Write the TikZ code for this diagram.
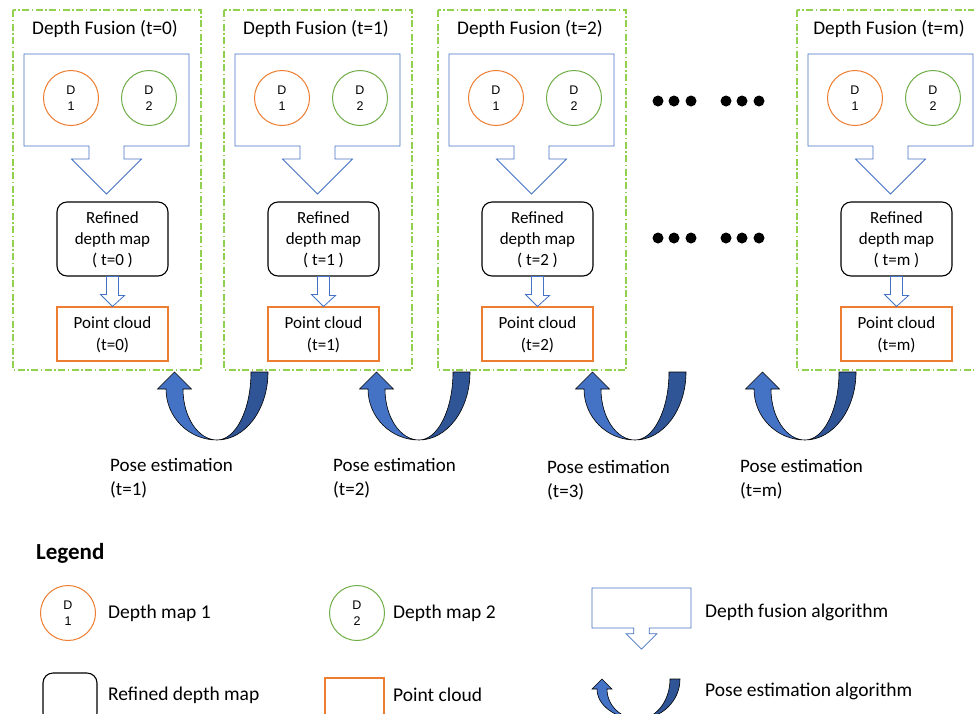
\documentclass[tikz,border=0pt]{standalone}
\usepackage{fontspec}
\setmainfont{Carlito}
\newfontfamily\arialfont{Liberation Sans}
\usetikzlibrary{positioning}

\definecolor{fuseblue}{HTML}{4472C4}
\definecolor{posedark}{HTML}{2F5597}
\definecolor{mapone}{HTML}{ED7D31}
\definecolor{maptwo}{HTML}{70AD47}
\definecolor{framegreen}{HTML}{92D050}

% block arrow: box with a downward head (centre x, top, half width, height, head scale)
\newcommand{\fusionShape}[5]{%
  \draw[fuseblue,fill=white,line width=0.8pt]
    (#1-#3,#2) -- (#1+#3,#2) -- (#1+#3,#2+#4)
    -- (#1+17.5*#5,#2+#4) -- (#1+17.5*#5,#2+#4+13*#5) -- (#1+35*#5,#2+#4+13*#5)
    -- (#1,#2+#4+48*#5) -- (#1-35*#5,#2+#4+13*#5) -- (#1-17.5*#5,#2+#4+13*#5)
    -- (#1-17.5*#5,#2+#4) -- (#1-#3,#2+#4) -- cycle;}

% curved up arrow (bottom x, bottom y, half span, arm width)
\newcommand{\poseArrow}[4]{%
  \filldraw[fill=posedark,draw=black,line width=0.6pt] (#1,#2)
    arc[start angle=90,end angle=0,x radius=#3+#4/2,y radius=4*#4]
    -- ++(-#4,0)
    arc[start angle=0,end angle=90,x radius=#3-#4/2,y radius=4*#4] -- cycle;
  \filldraw[fill=fuseblue,draw=black,line width=0.6pt] (#1,#2)
    arc[start angle=90,end angle=180,x radius=#3+#4/2,y radius=3*#4]
    -- ++(-#4/2,0) -- ++(#4,-#4) -- ++(#4,#4) -- ++(-#4/2,0)
    arc[start angle=180,end angle=90,x radius=#3-#4/2,y radius=3*#4] -- cycle;}

\begin{document}
\begin{tikzpicture}[x=1pt,y=-1pt]
    \tikzstyle{frame}=[draw=framegreen,line width=1.1pt,dash pattern=on 7pt off 2.5pt on 1.5pt off 2.5pt]
    \tikzstyle{title}=[font=\fontsize{19.3}{23}\selectfont]
    \tikzstyle{depth}=[circle,minimum size=55pt,inner sep=0pt,line width=1pt,align=center,
        font=\arialfont\fontsize{12.5}{16}\selectfont]
    \tikzstyle{map one}=[depth,draw=mapone]
    \tikzstyle{map two}=[depth,draw=maptwo]
    \tikzstyle{refined}=[draw=black,line width=1.1pt,rounded corners=10pt,minimum width=111pt,
        minimum height=74pt,align=center,text depth=0pt,font=\fontsize{17}{21}\selectfont]
    \tikzstyle{cloud}=[draw=mapone,line width=1.1pt,minimum width=111pt,minimum height=54pt,
        align=center,text depth=0pt,font=\fontsize{17}{22}\selectfont]
    \tikzstyle{annot}=[anchor=west,align=left,inner sep=0pt,font=\fontsize{19}{24}\selectfont]
    \tikzstyle{legend text}=[anchor=west,inner sep=0pt,font=\fontsize{19.5}{24}\selectfont]

    \clip (0,0) rectangle (974,713);

    % one panel per time step
    \foreach \dx/\t in {0/0,211/1,425/2,784/m}{
      \begin{scope}[shift={(\dx,0)}]
        \draw[frame] (13,10) rectangle (201,370);
        \node[title] (T-\t) at (105,29) {Depth Fusion (t=\t)};
        \fusionShape{106.5}{54}{82.5}{92}{1}
        \node[map one] (D1-\t) at (71,98) {D\\1};
        \node[map two] (D2-\t) at (149,98) {D\\2};
        \node[refined] (R-\t) at (112.5,239) {Refined\\depth map\\( t=\t\ )};
        \node[cloud] (P-\t) at (112.5,334) {Point cloud\\(t=\t)};
        \draw[fuseblue,fill=white,line width=0.8pt] ([xshift=-6pt]R-\t.south) -- ++(12,0) -- ++(0,19)
            -- ++(6,0) -- (P-\t.north) -- ++(-12,-12) -- ++(6,0) -- cycle;
      \end{scope}
    }

    % dots between t=2 and t=m
    \foreach \x in {658,674,691,726,742,759}
      \foreach \y in {101,238}
        \fill (\x,\y) circle[radius=5.5];

    % pose estimation between panels
    \poseArrow{217}{440}{42.5}{17}
    \poseArrow{419}{440}{42.5}{17}
    \poseArrow{635}{440}{42.5}{17}
    \poseArrow{805}{440}{42.5}{17}
    \node[annot] (PE-1) at (110,478) {Pose estimation\\(t=1)};
    \node[annot] (PE-2) at (333,478) {Pose estimation\\(t=2)};
    \node[annot] (PE-3) at (547,480) {Pose estimation\\(t=3)};
    \node[annot] (PE-m) at (740,479) {Pose estimation\\(t=m)};

    % legend
    \node[anchor=west,inner sep=0pt,font=\fontsize{23}{28}\selectfont\bfseries] (LG) at (36,553) {Legend};
    \node[map one] (LD1) at (68,613) {D\\1};
    \node[legend text] (LT1) at (108,613) {Depth map 1};
    \node[map two] (LD2) at (357,613) {D\\2};
    \node[legend text] (LT2) at (393,613) {Depth map 2};
    \fusionShape{641.5}{588}{49.5}{40}{0.44}
    \node[legend text] (LT3) at (705,612) {Depth fusion algorithm};
    \node[refined,minimum width=54pt,minimum height=50pt] (LR) at (70,698) {};
    \node[legend text] (LT4) at (108,695) {Refined depth map};
    \node[cloud,minimum width=59pt,minimum height=50pt] (LP) at (354.5,703) {};
    \node[legend text] (LT5) at (393,695) {Point cloud};
    \poseArrow{638.5}{719}{36.5}{10}
    \node[legend text] (LT6) at (705,691) {Pose estimation algorithm};
\end{tikzpicture}
\end{document}
